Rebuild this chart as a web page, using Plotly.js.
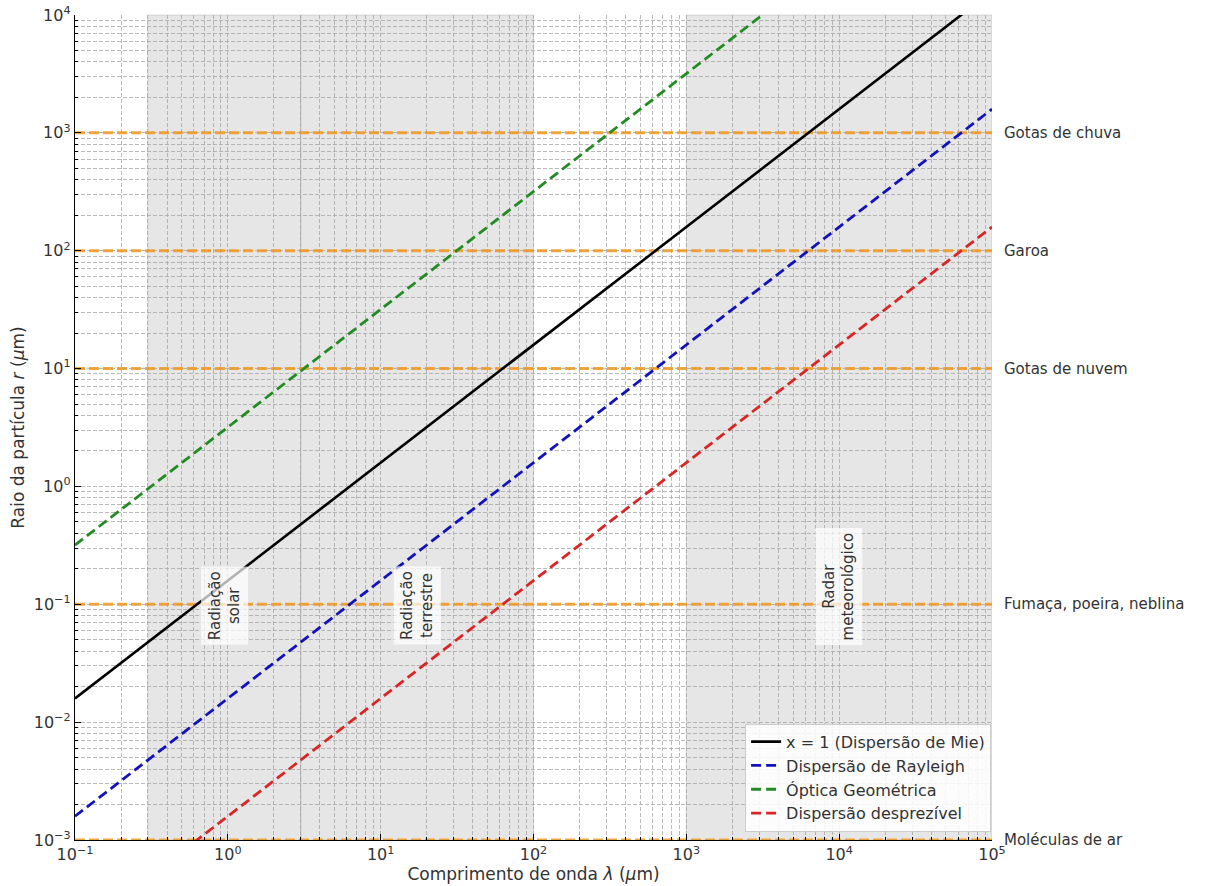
<!DOCTYPE html>
<html>
<head>
<meta charset="utf-8">
<script src="https://cdn.plot.ly/plotly-3.0.1.min.js"></script>
<style>html,body{margin:0;padding:0;background:#fff;}#chart{width:1206px;height:886px;}</style>
</head>
<body>
<div id="chart"></div>
<script>
// Wavelength endpoints (μm)
const lambdaEnds = [0.1, 1e5];
// Particle radius at those endpoints for each regime line (μm)
const rMie = [0.0159, 15900];
const rRayleigh = [0.00159, 1590];
const rGeom = [0.318, 318000];
const rNegl = [0.000159, 159];

const seriesNames = ["x = 1 (Dispersão de Mie)", "Dispersão de Rayleigh", "Óptica Geométrica", "Dispersão desprezível"];

// Particle types (horizontal reference lines)
const particleRadii = [1000, 100, 10, 0.1, 0.001];
const particleLabels = ["Gotas de chuva", "Garoa", "Gotas de nuvem", "Fumaça, poeira, neblina", "Moléculas de ar"];

// Spectral bands (μm)
const bandStart = [0.3, 3, 1000];
const bandEnd = [3, 100, 100000];
const bandLabels = ["Radiação<br>solar", "Radiação<br>terrestre", "Radar<br>meteorológico"];
const bandLabelY = 0.1;

// Tick labels
const xTickVals = [0.1, 1, 10, 100, 1000, 10000, 100000];
const xTickText = ["10<sup>−1</sup>", "10<sup>0</sup>", "10<sup>1</sup>", "10<sup>2</sup>", "10<sup>3</sup>", "10<sup>4</sup>", "10<sup>5</sup>"];
const yTickVals = [0.001, 0.01, 0.1, 1, 10, 100, 1000, 10000];
const yTickText = ["10<sup>−3</sup>", "10<sup>−2</sup>", "10<sup>−1</sup>", "10<sup>0</sup>", "10<sup>1</sup>", "10<sup>2</sup>", "10<sup>3</sup>", "10<sup>4</sup>"];

function minorVals(lo, hi) {
  const out = [];
  for (let e = lo; e < hi; e++) {
    for (let d = 2; d <= 9; d++) out.push(d * Math.pow(10, e));
  }
  return out;
}

const FONT = "DejaVu Sans, Liberation Sans, sans-serif";
const gridColor = "#a8a8a8";

const traces = [];
particleRadii.forEach((r, i) => {
  traces.push({
    x: lambdaEnds, y: [r, r], mode: "lines", showlegend: false, hoverinfo: "skip",
    line: {color: "rgba(240,150,30,0.85)", width: 3, dash: "10px,4px"}
  });
});
traces.push({x: lambdaEnds, y: rMie, mode: "lines", name: seriesNames[0], line: {color: "#000000", width: 2.6}});
traces.push({x: lambdaEnds, y: rRayleigh, mode: "lines", name: seriesNames[1], line: {color: "#1212bb", width: 2.8, dash: "10px,5px"}});
traces.push({x: lambdaEnds, y: rGeom, mode: "lines", name: seriesNames[2], line: {color: "#228b22", width: 2.8, dash: "10px,5px"}});
traces.push({x: lambdaEnds, y: rNegl, mode: "lines", name: seriesNames[3], line: {color: "#d92525", width: 2.8, dash: "10px,5px"}});

const shapes = bandStart.map((s, i) => ({
  type: "rect", xref: "x", yref: "paper",
  x0: s, x1: bandEnd[i], y0: 0, y1: 1,
  fillcolor: "rgba(128,128,128,0.2)", line: {color: "rgba(128,128,128,0.25)", width: 1}, layer: "below"
}));

const annotations = [];
bandLabels.forEach((t, i) => {
  annotations.push({
    xref: "x", yref: "y",
    x: (Math.log10(bandStart[i]) + Math.log10(bandEnd[i])) / 2,
    y: Math.log10(bandLabelY), yanchor: "bottom", yshift: -41,
    text: t, textangle: -90, showarrow: false,
    font: {family: FONT, size: 15, color: "#333"},
    bgcolor: "rgba(255,255,255,0.7)", borderpad: 4
  });
});
particleLabels.forEach((t, i) => {
  annotations.push({
    xref: "paper", yref: "y", x: 1, xshift: 10, xanchor: "left",
    y: Math.log10(particleRadii[i]),
    text: t, showarrow: false,
    font: {family: FONT, size: 15, color: "#333"}
  });
});

const layout = {
  width: 1206, height: 886,
  margin: {l: 75, r: 214, t: 15, b: 46},
  paper_bgcolor: "#ffffff", plot_bgcolor: "#ffffff",
  font: {family: FONT, size: 15, color: "#333"},
  showlegend: true,
  legend: {
    x: 0.999, xanchor: "right", y: 0.01, yanchor: "bottom",
    bgcolor: "rgba(255,255,255,0.85)", bordercolor: "#cccccc", borderwidth: 1,
    font: {family: FONT, size: 16, color: "#333"}, tracegroupgap: 0
  },
  xaxis: {
    type: "log", range: [-1, 5],
    tickvals: xTickVals, ticktext: xTickText,
    ticks: "inside", ticklen: 6, tickcolor: "#000", tickwidth: 1,
    showline: true, linecolor: "#000", linewidth: 1.2, mirror: false,
    showgrid: true, gridcolor: gridColor, griddash: "4px,2px", gridwidth: 0.8,
    zeroline: false,
    tickfont: {family: FONT, size: 16, color: "#333"},
    minor: {tickvals: minorVals(-1, 5), ticks: "inside", ticklen: 3, tickcolor: "#000",
            showgrid: true, gridcolor: gridColor, griddash: "4px,2px", gridwidth: 0.8},
    title: {text: "Comprimento de onda <i>λ</i> (<i>μ</i>m)", font: {family: FONT, size: 17, color: "#333"}, standoff: 4}
  },
  yaxis: {
    type: "log", range: [-3, 4],
    tickvals: yTickVals, ticktext: yTickText,
    ticks: "inside", ticklen: 6, tickcolor: "#000", tickwidth: 1,
    showline: true, linecolor: "#000", linewidth: 1.2, mirror: false,
    showgrid: true, gridcolor: gridColor, griddash: "4px,2px", gridwidth: 0.8,
    zeroline: false,
    tickfont: {family: FONT, size: 16, color: "#333"},
    minor: {tickvals: minorVals(-3, 4), ticks: "inside", ticklen: 3, tickcolor: "#000",
            showgrid: true, gridcolor: gridColor, griddash: "4px,2px", gridwidth: 0.8},
    title: {text: "Raio da partícula <i>r</i> (<i>μ</i>m)", font: {family: FONT, size: 17, color: "#333"}, standoff: 4}
  },
  shapes: shapes,
  annotations: annotations
};

Plotly.newPlot("chart", traces, layout, {displayModeBar: false, staticPlot: true});
</script>
</body>
</html>
